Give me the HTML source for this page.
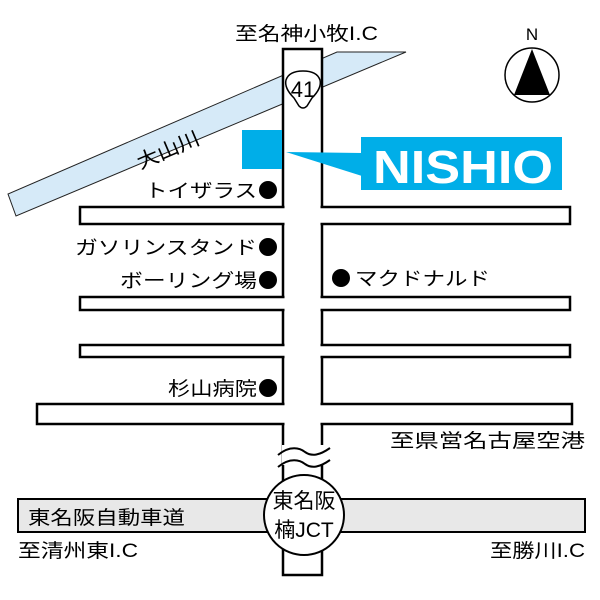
<!DOCTYPE html>
<html><head><meta charset="utf-8"><style>
html,body{margin:0;padding:0;background:#fff;}
svg{display:block;}
text{font-family:"Liberation Sans","Noto Sans CJK JP",sans-serif;fill:#000;}
</style></head><body>
<svg width="600" height="600" viewBox="0 0 600 600" xmlns="http://www.w3.org/2000/svg" font-size="19">
<rect width="600" height="600" fill="#fff"/>
<polygon points="337,52 406,52 16,216 8,194" fill="#d6eaf8" stroke="#222" stroke-width="1"/>
<rect x="18" y="499" width="567" height="33" fill="#e8e8e8" stroke="#000" stroke-width="2"/>
<g fill="#fff" stroke="#000" stroke-width="2.5">
<rect x="283" y="49" width="39" height="526"/>
<rect x="80" y="207" width="490" height="17"/>
<rect x="80" y="297" width="490" height="13"/>
<rect x="80" y="345" width="490" height="12"/>
<rect x="37" y="404" width="535" height="20"/>
</g>
<g fill="#fff">
<rect x="284.5" y="50.5" width="36" height="523"/>
<rect x="81.5" y="208.5" width="487" height="14"/>
<rect x="81.5" y="298.5" width="487" height="10"/>
<rect x="81.5" y="346.5" width="487" height="9"/>
<rect x="38.5" y="405.5" width="532" height="17"/>
</g>
<rect x="282" y="445" width="42" height="20" fill="#fff"/>
<path d="M278,455 C290,445 300,448 305,452 C312,457 320,455 330,448" fill="none" stroke="#000" stroke-width="2"/>
<path d="M278,467 C290,457 300,460 305,464 C312,469 320,467 330,460" fill="none" stroke="#000" stroke-width="2"/>
<text x="168" y="157" transform="rotate(-23 168 150)" text-anchor="middle" font-size="20" textLength="66" lengthAdjust="spacingAndGlyphs">大山川</text>
<path d="M286,80 Q289,71 303,71 Q317,71 320,80 Q322,88 312,98 L307,106 Q303,110 299,106 L294,98 Q284,88 286,80 Z" fill="#fff" stroke="#000" stroke-width="1.5"/>
<text x="303" y="97" text-anchor="middle" font-size="22">41</text>
<text x="235" y="40" textLength="143" lengthAdjust="spacingAndGlyphs">至名神小牧I.C</text>
<rect x="242" y="130" width="40" height="39" fill="#00aee8"/>
<polygon points="286,152 362,153 362,176" fill="#00aee8"/>
<rect x="361" y="137" width="201" height="53" fill="#00aee8"/>
<text x="373" y="183" font-size="46" font-weight="bold" style="fill:#fff" textLength="180" lengthAdjust="spacingAndGlyphs">NISHIO</text>
<text x="532" y="40" text-anchor="middle" font-size="17">N</text>
<circle cx="532" cy="75" r="27" fill="#fff" stroke="#000" stroke-width="1.5"/>
<polygon points="532,49 514,95 550,95" fill="#000"/>
<text x="145" y="197" textLength="112" lengthAdjust="spacingAndGlyphs">トイザラス</text>
<circle cx="268" cy="190" r="9"/>
<text x="75" y="254" textLength="182" lengthAdjust="spacingAndGlyphs">ガソリンスタンド</text>
<circle cx="268" cy="247" r="9"/>
<text x="120" y="287" textLength="137" lengthAdjust="spacingAndGlyphs">ボーリング場</text>
<circle cx="268" cy="280" r="9"/>
<circle cx="341" cy="278" r="9"/>
<text x="355" y="285" textLength="135" lengthAdjust="spacingAndGlyphs">マクドナルド</text>
<text x="168" y="395" textLength="89" lengthAdjust="spacingAndGlyphs">杉山病院</text>
<circle cx="268" cy="388" r="9"/>
<text x="390" y="447" textLength="195" lengthAdjust="spacingAndGlyphs">至県営名古屋空港</text>
<text x="28" y="524" textLength="157" lengthAdjust="spacingAndGlyphs">東名阪自動車道</text>
<text x="18" y="557" textLength="120" lengthAdjust="spacingAndGlyphs">至清州東I.C</text>
<text x="490" y="557" textLength="95" lengthAdjust="spacingAndGlyphs">至勝川I.C</text>
<circle cx="304" cy="515" r="40" fill="#fff" stroke="#000" stroke-width="2"/>
<text x="304" y="508" text-anchor="middle" font-size="21">東名阪</text>
<text x="304" y="537" text-anchor="middle" font-size="21">楠JCT</text>
</svg>
</body></html>
